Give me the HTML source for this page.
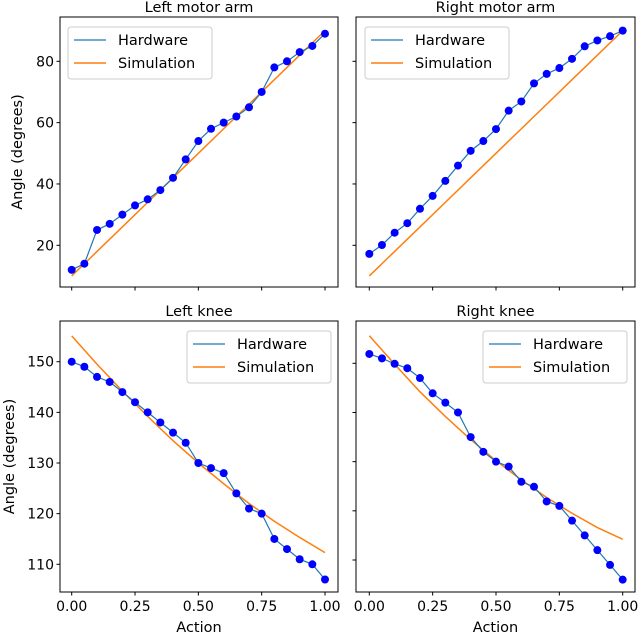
<!DOCTYPE html>
<html><head><meta charset="utf-8"><style>
body{margin:0;background:#fff}
svg{display:block;font-family:"DejaVu Sans","Liberation Sans",sans-serif}
</style></head><body>
<svg id="c" width="640" height="634" xmlns="http://www.w3.org/2000/svg"></svg>
<script>
const actions=[0,0.05,0.1,0.15,0.2,0.25,0.3,0.35,0.4,0.45,0.5,0.55,0.6,0.65,0.7,0.75,0.8,0.85,0.9,0.95,1.0];
const simX=[0,0.1,0.2,0.3,0.4,0.5,0.6,0.7,0.8,0.9,1.0];
const hwLeftArm=[12,14,25,27,30,33,35,38,42,48,54,58,60,62,65,70,78,80,83,85,89];
const simLeftArm=[10,18,26,34,42,50,58,66,74,82,90];
const hwRightArm=[17.2,20.1,24.1,27.2,31.9,36.1,41,46,50.8,54,57.9,63.9,66.9,72.8,75.9,77.8,80.8,84.9,86.8,88.2,90];
const simRightArm=[10,18,26,34,42,50,58,66,74,82,90];
const hwLeftKnee=[150,149,147,146,144,142,140,138,136,134,130,129,128,124,121,120,115,113,111,110,107];
const simLeftKnee=[155.1,149.5,144.2,139.2,134.4,130.0,125.9,122.0,118.5,115.3,112.3];
const hwRightKnee=[151.9,151,149.9,149,147,143.9,142,140,135,132,130,129,125.9,124.9,121.9,121,118,115,112,109,106];
const simRightKnee=[155.6,149.8,144.2,139.2,134.5,130.2,126.3,122.7,119.5,116.6,114.2];
const xTicks=[0,0.25,0.5,0.75,1.0];
const xTickLabels=["0.00","0.25","0.50","0.75","1.00"];
const armTicks=[20,40,60,80];
const kneeTicks=[110,120,130,140,150];

const NS="http://www.w3.org/2000/svg";
const svg=document.getElementById('c');
function mk(t,a,p){const e=document.createElementNS(NS,t);for(const k in a)e.setAttribute(k,a[k]);(p||svg).appendChild(e);return e;}

const panels=[
 {name:'left-motor-arm',title:'Left motor arm',L:60,R:338,T:17,B:287,x0:71.7,x1:325,v0:20,p0:245.3,v1:80,p1:61.3,yt:armTicks,yl:true,xl:false,hw:hwLeftArm,sim:simLeftArm,leg:[68,27]},
 {name:'right-motor-arm',title:'Right motor arm',L:356,R:635,T:17,B:287,x0:369.3,x1:622.7,v0:20,p0:245.3,v1:80,p1:61.3,yt:armTicks,yl:false,xl:false,hw:hwRightArm,sim:simRightArm,leg:[365,27]},
 {name:'left-knee',title:'Left knee',L:60,R:338,T:321,B:592,x0:71.7,x1:325,v0:150,p0:361.7,v1:110,p1:564.3,yt:kneeTicks,yl:true,xl:true,hw:hwLeftKnee,sim:simLeftKnee,leg:[187,331]},
 {name:'right-knee',title:'Right knee',L:356,R:635,T:321,B:592,x0:369.3,x1:622.7,v0:150,p0:363.3,v1:110,p1:560,yt:kneeTicks,yl:false,xl:true,hw:hwRightKnee,sim:simRightKnee,leg:[483,331]}
];
panels.forEach(P=>{
 const g=mk('g',{});
 
 
 const xs=v=>P.x0+(P.x1-P.x0)*v;
 const ys=v=>P.p0+(v-P.v0)*(P.p1-P.p0)/(P.v1-P.v0);
 const t=mk('text',{x:(P.L+P.R)/2,y:P.T-5,'text-anchor':'middle','font-size':14.5,fill:'#000'},g);t.textContent=P.title;
 
 const sp=mk('polyline',{points:simX.map((x,i)=>xs(x)+','+ys(P.sim[i])).join(' '),fill:'none',stroke:'#ff7f0e','stroke-width':1.5,'stroke-linejoin':'round'},g);
 
 const hp=mk('polyline',{points:actions.map((x,i)=>xs(x)+','+ys(P.hw[i])).join(' '),fill:'none',stroke:'#1f77b4','stroke-width':1.2},g);
 
 actions.forEach((x,i)=>{const c=mk('circle',{cx:xs(x),cy:ys(P.hw[i]),r:4,fill:'#0000ff'},g);
  });
 const fr=mk('rect',{x:P.L,y:P.T,width:P.R-P.L,height:P.B-P.T,fill:'none',stroke:'#000','stroke-width':1},g);
 
 xTicks.forEach((v,i)=>{mk('line',{x1:xs(v),x2:xs(v),y1:P.B,y2:P.B+3.5,stroke:'#000'},g);
  if(P.xl){const l=mk('text',{x:xs(v),y:P.B+19,'text-anchor':'middle','font-size':14},g);l.textContent=xTickLabels[i];
   }});
 P.yt.forEach(v=>{mk('line',{x1:P.L-3.5,x2:P.L,y1:ys(v),y2:ys(v),stroke:'#000'},g);
  if(P.yl){const l=mk('text',{x:P.L-6,y:ys(v)+5,'text-anchor':'end','font-size':14},g);l.textContent=v;
   }});
 if(P.xl){const a=mk('text',{x:(P.L+P.R)/2,y:632,'text-anchor':'middle','font-size':14.5},g);a.textContent='Action';
  }
 if(P.yl){const cy=(P.T+P.B)/2;const a=mk('text',{x:0,y:0,'text-anchor':'middle','font-size':14.5,transform:`translate(${P.T<100?22:14},${cy}) rotate(-90)`},g);a.textContent='Angle (degrees)';
  }
 const [lx,ly]=P.leg;
 const lg=mk('g',{},g);
 
 mk('rect',{x:lx,y:ly,width:144,height:52,rx:3,fill:'#fff','fill-opacity':0.8,stroke:'#ccc'},lg);
 mk('line',{x1:lx+6,x2:lx+38,y1:ly+13,y2:ly+13,stroke:'#1f77b4','stroke-width':1.2},lg);
 mk('line',{x1:lx+6,x2:lx+38,y1:ly+36,y2:ly+36,stroke:'#ff7f0e','stroke-width':1.5},lg);
 const t1=mk('text',{x:lx+50,y:ly+18,'font-size':14.5},lg);t1.textContent='Hardware';
 
 const t2=mk('text',{x:lx+50,y:ly+41,'font-size':14.5},lg);t2.textContent='Simulation';
 
});
</script>
</body></html>
